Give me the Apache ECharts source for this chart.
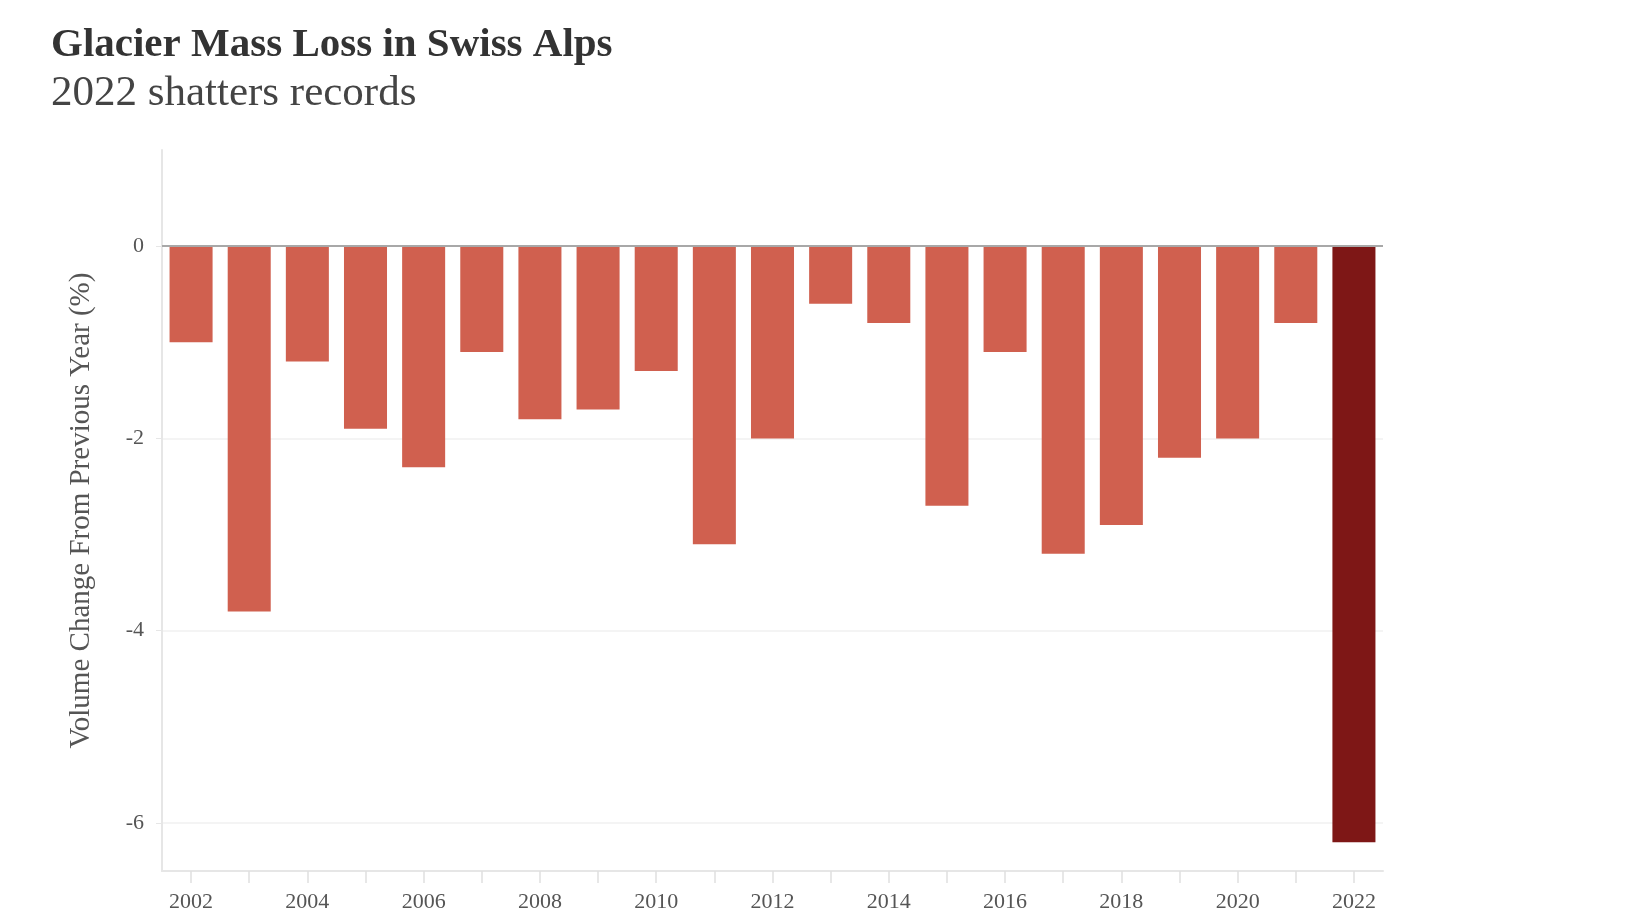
<!DOCTYPE html>
<html>
<head>
<meta charset="utf-8">
<script src="https://cdn.jsdelivr.net/npm/echarts@6/dist/echarts.min.js"></script>
<style>
html,body{margin:0;padding:0;background:#fff;}
#chart{width:1640px;height:924px;}
</style>
</head>
<body>
<div id="chart"></div>
<script>
const years = ['2002','2003','2004','2005','2006','2007','2008','2009','2010','2011','2012','2013','2014','2015','2016','2017','2018','2019','2020','2021','2022'];
const volumeChange = [-1.0,-3.8,-1.2,-1.9,-2.3,-1.1,-1.8,-1.7,-1.3,-3.1,-2.0,-0.6,-0.8,-2.7,-1.1,-3.2,-2.9,-2.2,-2.0,-0.8,-6.2];
const yTicks = [0,-2,-4,-6];
const highlightYear = '2022';

const titleText = 'Glacier Mass Loss in Swiss Alps';
const subtitleText = '2022 shatters records';
const yAxisName = 'Volume Change From Previous Year (%)';

const serif = '"Liberation Serif", "DejaVu Serif", serif';

const chart = echarts.init(document.getElementById('chart'), null, {renderer:'canvas'});
chart.setOption({
  backgroundColor:'#ffffff',
  animation:false,
  title:{
    text:titleText,
    subtext:subtitleText,
    left:46,
    top:20,
    itemGap:6,
    textStyle:{fontFamily:serif,fontWeight:'bold',fontSize:41,color:'#333333'},
    subtextStyle:{fontFamily:serif,fontSize:43,color:'#444444'}
  },
  grid:{left:162,right:257,top:150,bottom:53},
  xAxis:{
    type:'category',
    data:years,
    boundaryGap:true,
    axisLine:{onZero:false,lineStyle:{color:'#e6e6e6',width:2}},
    axisTick:{show:true,interval:0,alignWithLabel:true,length:12,lineStyle:{color:'#e0e0e0',width:1.5}},
    axisLabel:{interval:1,margin:20,fontFamily:serif,fontSize:22,color:'#555555'},
    splitLine:{show:false}
  },
  yAxis:{
    type:'value',
    min:-6.5,
    max:1,
    name:yAxisName,
    nameLocation:'middle',
    nameGap:66,
    nameTextStyle:{fontFamily:serif,fontSize:29,color:'#555555'},
    axisLine:{show:true,lineStyle:{color:'#e6e6e6',width:2}},
    axisTick:{show:true,customValues:yTicks,length:6,lineStyle:{color:'#e6e6e6'}},
    axisLabel:{customValues:yTicks,margin:18,fontFamily:serif,fontSize:22,color:'#555555'},
    splitLine:{show:true,lineStyle:{color:'#f0f0f0',width:1.5}}
  },
  series:[{
    type:'bar',
    data:volumeChange.map((v,i)=>({
      value:v,
      itemStyle:{color: years[i]===highlightYear ? '#7e1716' : '#d0604f'}
    })),
    barCategoryGap:'26%',
    markLine:{
      silent:true,
      symbol:'none',
      label:{show:false},
      lineStyle:{color:'#a8a8a8',width:2,type:'solid'},
      data:[{yAxis:yTicks[0]}]
    }
  }]
});
</script>
</body>
</html>
